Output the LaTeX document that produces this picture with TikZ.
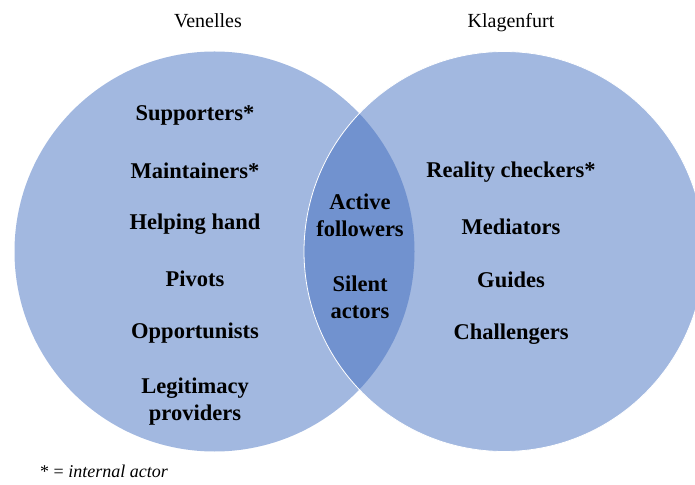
\documentclass[tikz,border=0pt]{standalone}
\usepackage{fontspec}
\setmainfont{Liberation Serif}
\usetikzlibrary{positioning}
\definecolor{vennInk}{HTML}{000000}
\definecolor{vennLight}{HTML}{A2B8E0}
\definecolor{vennDark}{HTML}{7192CF}
\tikzset{
  every picture/.style={text=vennInk},
  venn set/.style={fill=vennLight},
  venn lens/.style={fill=vennDark},
  venn edge/.style={draw=white, line width=0.8pt},
  venn title/.style={font=\fontsize{20}{24}\selectfont, anchor=base, inner sep=0pt},
  venn role/.style={font=\fontsize{22.5}{27}\selectfont\bfseries,
    align=center, inner sep=0pt},
  venn note/.style={font=\fontsize{18}{22}\selectfont, anchor=west, inner sep=0pt}
}

\begin{document}
\begin{tikzpicture}[x=1pt,y=1pt]
  \useasboundingbox (0,0) rectangle (695,484);
  \clip (0,0) rectangle (695,484);
  \coordinate (venelles) at (214.5,232.5);
  \coordinate (klagenfurt) at (504,232.5);
  % the two sets and their overlap
  \fill[venn set] (venelles) circle (200pt);
  \fill[venn set] (klagenfurt) circle (200pt);
  \begin{scope}
    \clip (venelles) circle (200pt);
    \fill[venn lens] (klagenfurt) circle (200pt);
  \end{scope}
  \draw[venn edge] (klagenfurt) circle (200pt);
  % titles
  \node[venn title] (venTitle) at (208,456) {Venelles};
  \node[venn title] (klaTitle) at (511,456) {Klagenfurt};
  % Venelles only
  \node[venn role] (supporters) at (195,368.5) {Supporters*};
  \node[venn role] (maintainers) at (195,313.5) {Maintainers*};
  \node[venn role] (helping) at (195,259.5) {Helping hand};
  \node[venn role] (pivots) at (195,205) {Pivots};
  \node[venn role] (opportunists) at (195,150.5) {Opportunists};
  \node[venn role] (legitimacy) at (195,82.5) {Legitimacy\\providers};
  % shared
  \node[venn role] (followers) at (360,268.5) {Active\\followers};
  \node[venn role] (silent) at (360,186.5) {Silent\\actors};
  % Klagenfurt only
  \node[venn role] (reality) at (511,311.5) {Reality checkers*};
  \node[venn role] (mediators) at (511,257.5) {Mediators};
  \node[venn role] (guides) at (511,204) {Guides};
  \node[venn role] (challengers) at (511,149.5) {Challengers};
  % legend
  \node[venn note] (legend) at (40,13) {* = \textit{internal actor}};
\end{tikzpicture}
\end{document}
